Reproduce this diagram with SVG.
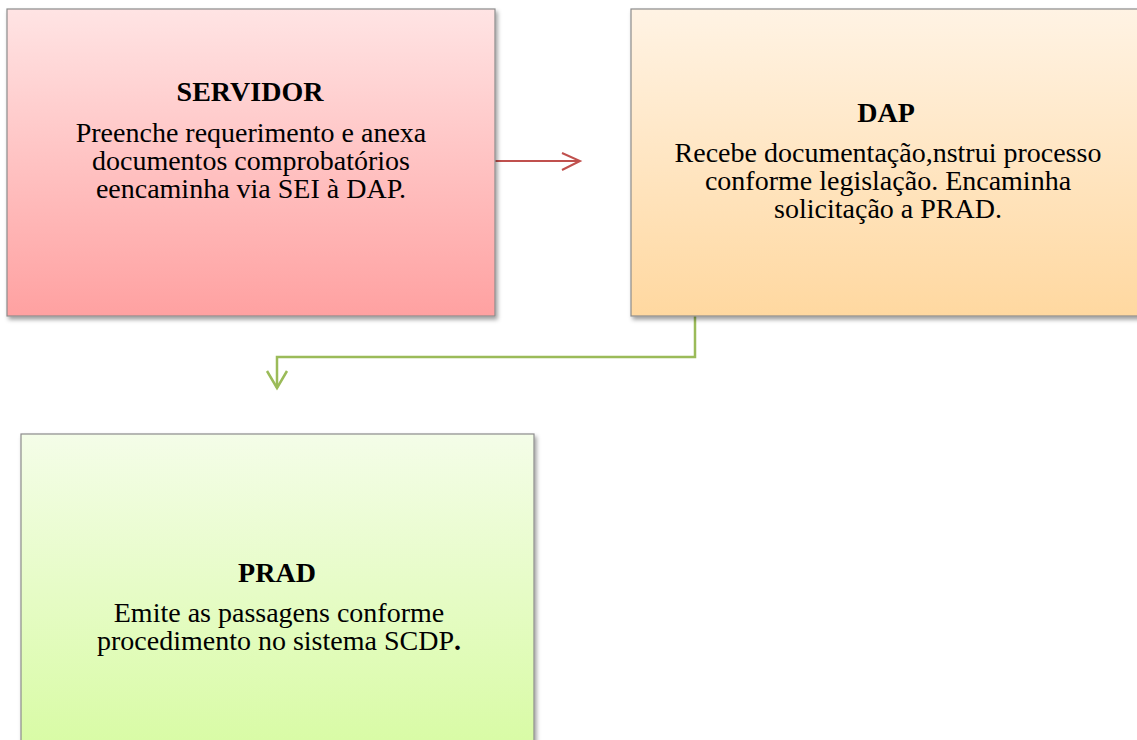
<svg xmlns="http://www.w3.org/2000/svg" width="1137" height="740" viewBox="0 0 1137 740">
  <style>
    .box { stroke: #8c8c8c; stroke-width: 1.2; filter: url(#shadow); }
    .title { font-family: "Liberation Serif", "Times New Roman", serif; font-weight: bold; font-size: 28px; fill: #000; text-anchor: middle; }
    .body { font-family: "Liberation Serif", "Times New Roman", serif; font-size: 28px; fill: #000; text-anchor: middle; }
    .link-red { stroke: #c0504d; stroke-width: 2; fill: none; }
    .link-green { stroke: #9bbb59; stroke-width: 2.5; fill: none; }
  </style>
  <defs>
    <linearGradient id="gRed" x1="0" y1="0" x2="0" y2="1">
      <stop offset="0" stop-color="#ffe4e4"/>
      <stop offset="1" stop-color="#ffa1a1"/>
    </linearGradient>
    <linearGradient id="gOrange" x1="0" y1="0" x2="0" y2="1">
      <stop offset="0" stop-color="#fff3e4"/>
      <stop offset="1" stop-color="#ffd8a0"/>
    </linearGradient>
    <linearGradient id="gGreen" x1="0" y1="0" x2="0" y2="1">
      <stop offset="0" stop-color="#f4fde8"/>
      <stop offset="1" stop-color="#d8fba4"/>
    </linearGradient>
    <filter id="shadow" x="-5%" y="-5%" width="115%" height="115%">
      <feDropShadow dx="2" dy="3" stdDeviation="2" flood-color="#000" flood-opacity="0.38"/>
    </filter>
  </defs>

  <rect width="1137" height="740" fill="#ffffff"/>

  <!-- connectors -->
  <g id="connectors">
    <path class="link-red" d="M495,161 H580"/>
    <path class="link-red" d="M562,153 L580,161 L562,170"/>
    <path class="link-green" d="M695,316 V357 H277 V388"/>
    <path class="link-green" d="M267,371 L277,388 L287,371"/>
  </g>

  <g id="servidor">
    <rect class="box" x="7" y="9" width="488" height="307" fill="url(#gRed)"/>
    <text class="title" x="250" y="101">SERVIDOR</text>
    <text class="body" x="251" y="142">Preenche requerimento e anexa</text>
    <text class="body" x="251" y="170">documentos comprobatórios</text>
    <text class="body" x="251" y="198">eencaminha via SEI à DAP.</text>
  </g>

  <g id="dap">
    <rect class="box" x="631" y="9" width="510" height="307" fill="url(#gOrange)"/>
    <text class="title" x="886" y="122">DAP</text>
    <text class="body" x="888" y="162">Recebe documentação,nstrui processo</text>
    <text class="body" x="888" y="190">conforme legislação. Encaminha</text>
    <text class="body" x="888" y="218">solicitação a PRAD.</text>
  </g>

  <g id="prad">
    <rect class="box" x="21" y="434" width="513" height="316" fill="url(#gGreen)"/>
    <text class="title" x="277" y="582">PRAD</text>
    <text class="body" x="279" y="622">Emite as passagens conforme</text>
    <text class="body" x="279" y="650">procedimento no sistema SCDP<tspan font-weight="bold">.</tspan></text>
  </g>
</svg>
